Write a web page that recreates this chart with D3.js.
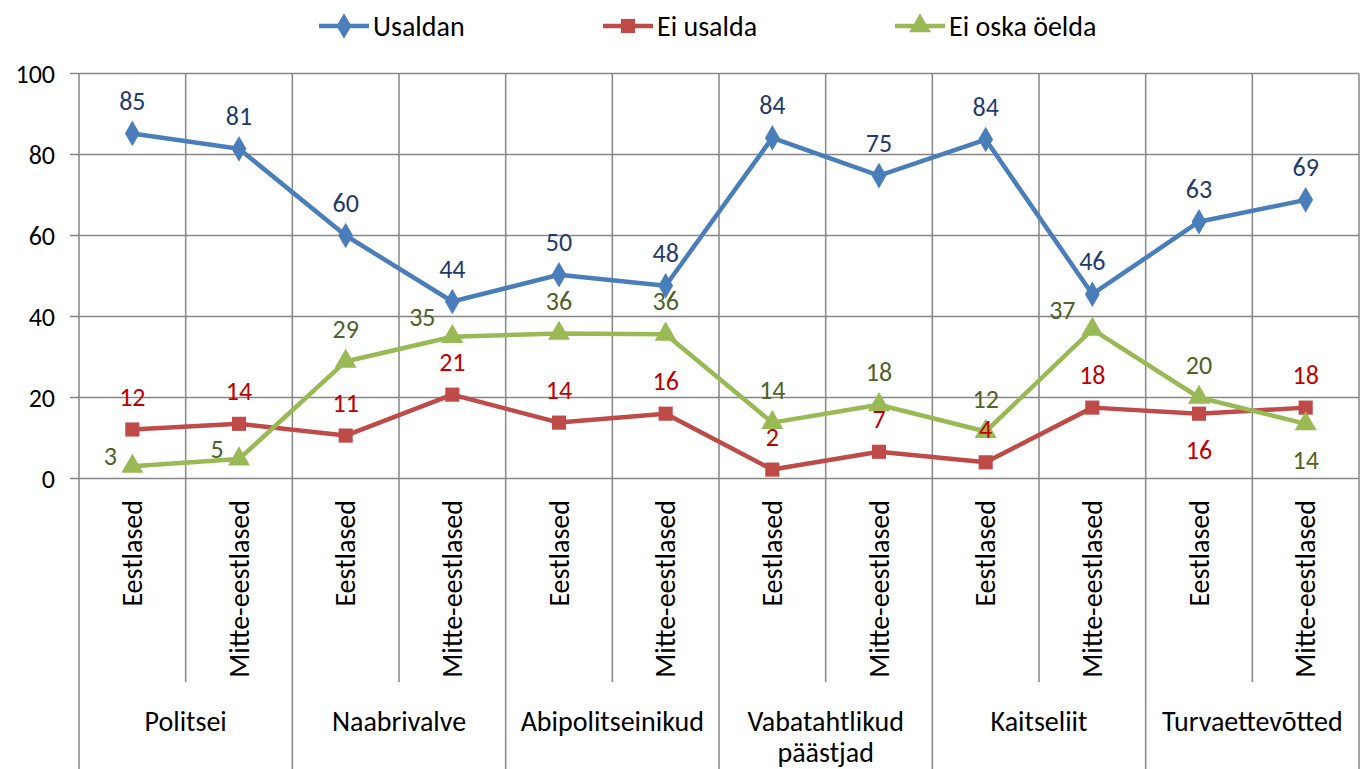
<!DOCTYPE html>
<html>
<head>
<meta charset="utf-8">
<script src="https://cdn.jsdelivr.net/npm/d3@7"></script>
<style>
  body { margin: 0; background: #fff; }
  svg text { font-family: Carlito, Calibri, Lato, sans-serif; }
</style>
</head>
<body>
<div id="chart"></div>
<script>
// groups and sub-categories
const groups = ["Politsei", "Naabrivalve", "Abipolitseinikud", "Vabatahtlikud päästjad", "Kaitseliit", "Turvaettevõtted"];
const subGroups = ["Eestlased", "Mitte-eestlased"];

// series values (percent)
const usaldan = [85.2, 81.4, 60.0, 43.7, 50.3, 47.6, 84.1, 74.8, 83.7, 45.5, 63.4, 68.8];
const eiUsalda = [12.1, 13.5, 10.6, 20.7, 13.8, 16.0, 2.2, 6.6, 4.0, 17.5, 16.0, 17.5];
const eiOska = [3.0, 4.8, 28.9, 35.0, 35.8, 35.6, 13.8, 18.2, 11.6, 36.8, 20.0, 13.5];

const yTicks = [0, 20, 40, 60, 80, 100];

// label placement for each point
const posUsaldan = Array(12).fill("above");
const posEiUsalda = ["above", "above", "above", "above", "above", "above", "above", "above", "above", "above", "below", "above"];
const posEiOska = ["left", "left", "above", "leftup", "above", "above", "above", "above", "above", "leftup", "above", "below"];

const series = [
  { name: "Usaldan", values: usaldan, pos: posUsaldan, color: "#4A7EBB", label: "#1F3A6E", marker: d3.symbolDiamond, size: 190 },
  { name: "Ei usalda", values: eiUsalda, pos: posEiUsalda, color: "#BE4B48", label: "#C00000", marker: d3.symbolSquare, size: 200 },
  { name: "Ei oska öelda", values: eiOska, pos: posEiOska, color: "#98B954", label: "#4F6228", marker: d3.symbolTriangle, size: 210 }
];

const width = 1367, height = 769;
const plot = { left: 79, right: 1359, top: 73.5, bottom: 478.5 };
const fsNum = 26;   // numbers
const fsText = 28;  // words

const svg = d3.select("#chart").append("svg")
  .attr("width", width)
  .attr("height", height);

const cats = d3.range(groups.length * subGroups.length);
const x = d3.scaleBand().domain(cats).range([plot.left, plot.right]).padding(0);
const y = d3.scaleLinear().domain([0, 100]).range([plot.bottom, plot.top]);
const cx = i => x(i) + x.bandwidth() / 2;

const gridColor = "#868686";

// horizontal grid
svg.append("g").selectAll("line")
  .data(yTicks)
  .join("line")
  .attr("x1", plot.left - 9)
  .attr("x2", plot.right)
  .attr("y1", d => y(d))
  .attr("y2", d => y(d))
  .attr("stroke", gridColor)
  .attr("stroke-width", 1.5);

// y tick labels
svg.append("g").selectAll("text")
  .data(yTicks)
  .join("text")
  .attr("x", 55)
  .attr("y", d => y(d))
  .attr("dy", "0.35em")
  .attr("text-anchor", "end")
  .attr("font-size", fsNum)
  .attr("fill", "#000")
  .text(d => d);

// vertical lines: plot area and category axis
const bounds = d3.range(cats.length + 1);
svg.append("g").selectAll("line")
  .data(bounds)
  .join("line")
  .attr("x1", d => (d < cats.length ? x(d) : plot.right))
  .attr("x2", d => (d < cats.length ? x(d) : plot.right))
  .attr("y1", plot.top)
  .attr("y2", d => (d % 2 === 0 ? height : 682))
  .attr("stroke", gridColor)
  .attr("stroke-width", 1.5);

// sub category labels (rotated)
svg.append("g").selectAll("text")
  .data(cats)
  .join("text")
  .attr("transform", d => `translate(${cx(d)},500) rotate(-90)`)
  .attr("text-anchor", "end")
  .attr("dy", "0.35em")
  .attr("font-size", fsText)
  .attr("fill", "#000")
  .text(d => subGroups[d % 2]);

// group labels
svg.append("g").selectAll("text")
  .data(groups)
  .join("text")
  .attr("x", (d, i) => x(i * 2 + 1))
  .attr("y", 731)
  .attr("text-anchor", "middle")
  .attr("font-size", fsText)
  .attr("fill", "#000")
  .each(function (d) {
    const words = d.split(" ");
    const t = d3.select(this);
    if (words.length > 1) {
      words.forEach((w, k) => {
        t.append("tspan").attr("x", t.attr("x")).attr("dy", k ? 31 : 0).text(w);
      });
    } else {
      t.text(d);
    }
  });

// lines and markers
const line = d3.line().x((d, i) => cx(i)).y(d => y(d));

series.forEach(s => {
  svg.append("path")
    .datum(s.values)
    .attr("d", line)
    .attr("fill", "none")
    .attr("stroke", s.color)
    .attr("stroke-width", 4.5)
    .attr("stroke-linejoin", "round");

  svg.append("g").selectAll("path")
    .data(s.values)
    .join("path")
    .attr("transform", (d, i) => `translate(${cx(i)},${y(d)})`)
    .attr("d", d3.symbol().type(s.marker).size(s.size))
    .attr("fill", s.color);
});

// value labels
series.forEach(s => {
  svg.append("g").selectAll("text")
    .data(s.values)
    .join("text")
    .attr("x", (d, i) => {
      const p = s.pos[i];
      if (p === "left") return cx(i) - 22;
      if (p === "leftup") return cx(i) - 30;
      return cx(i);
    })
    .attr("y", (d, i) => {
      const p = s.pos[i];
      if (p === "below") return y(d) + 36;
      if (p === "left") return y(d) - 10;
      if (p === "leftup") return y(d) - 20;
      return y(d) - 33;
    })
    .attr("dy", "0.35em")
    .attr("text-anchor", "middle")
    .attr("font-size", fsNum)
    .attr("fill", s.label)
    .text(d => Math.round(d));
});

// legend
const legendX = [319, 603, 895];
const legend = svg.append("g").selectAll("g")
  .data(series)
  .join("g")
  .attr("transform", (d, i) => `translate(${legendX[i]},26)`);

legend.append("line")
  .attr("x1", 0)
  .attr("x2", 50)
  .attr("stroke", d => d.color)
  .attr("stroke-width", 4.5);

legend.append("path")
  .attr("transform", "translate(25,0)")
  .attr("d", d => d3.symbol().type(d.marker).size(d.size)())
  .attr("fill", d => d.color);

legend.append("text")
  .attr("x", 54)
  .attr("dy", "0.35em")
  .attr("font-size", fsText)
  .attr("fill", "#000")
  .text(d => d.name);
</script>
</body>
</html>
